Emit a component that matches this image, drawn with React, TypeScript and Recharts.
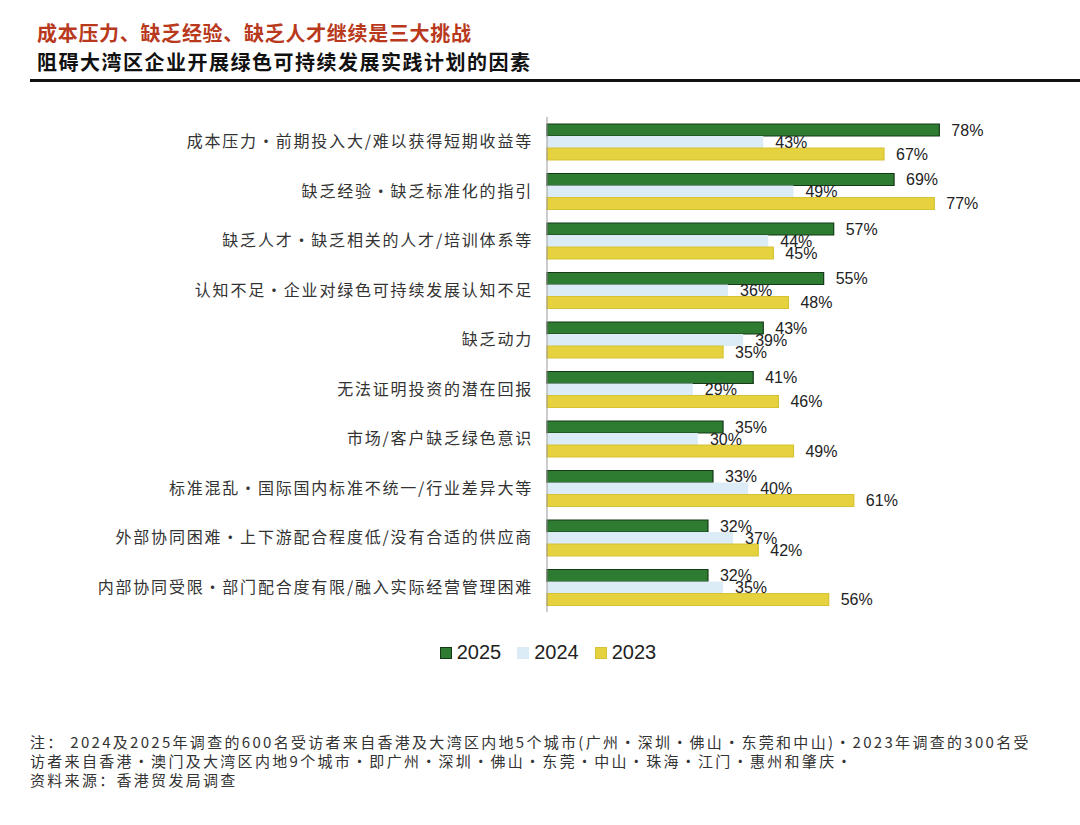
import React from 'react';
import { BarChart, Bar, XAxis, YAxis, LabelList } from 'recharts';

const factors = [
  '成本压力・前期投入大/难以获得短期收益等',
  '缺乏经验・缺乏标准化的指引',
  '缺乏人才・缺乏相关的人才/培训体系等',
  '认知不足・企业对绿色可持续发展认知不足',
  '缺乏动力',
  '无法证明投资的潜在回报',
  '市场/客户缺乏绿色意识',
  '标准混乱・国际国内标准不统一/行业差异大等',
  '外部协同困难・上下游配合程度低/没有合适的供应商',
  '内部协同受限・部门配合度有限/融入实际经营管理困难',
];

const y2025 = [78, 69, 57, 55, 43, 41, 35, 33, 32, 32];
const y2024 = [43, 49, 44, 36, 39, 29, 30, 40, 37, 35];
const y2023 = [67, 77, 45, 48, 35, 46, 49, 61, 42, 56];

const seriesNames = ['2025', '2024', '2023'];

const noteLines = [
  '注： 2024及2025年调查的600名受访者来自香港及大湾区内地5个城市(广州・深圳・佛山・东莞和中山)・2023年调查的300名受',
  '访者来自香港・澳门及大湾区内地9个城市・即广州・深圳・佛山・东莞・中山・珠海・江门・惠州和肇庆・',
  '资料来源：香港贸发局调查',
];

const COLORS = {
  '2025': { fill: '#2e7b32', stroke: '#153a17' },
  '2024': { fill: '#dcecf7', stroke: '#dcecf7' },
  '2023': { fill: '#e5d23e', stroke: '#d6c234' },
};

const data = factors.map((name, i) => ({
  name,
  '2025': y2025[i],
  '2024': y2024[i],
  '2023': y2023[i],
}));

const CJK = '"Noto Sans CJK SC", "Noto Sans", sans-serif';
const LATIN = '"Liberation Sans", Arial, sans-serif';

export default function App() {
  return (
    <div
      style={{
        position: 'absolute',
        left: 0,
        top: 0,
        width: 1080,
        height: 825,
        background: '#fff',
        overflow: 'hidden',
        fontFamily: CJK,
      }}
    >
      <div style={{ position: 'absolute', left: 37, top: 19, fontSize: 20, fontWeight: 700, color: '#b8391c', lineHeight: '28px', letterSpacing: 0.7 }}>
        成本压力、缺乏经验、缺乏人才继续是三大挑战
      </div>
      <div style={{ position: 'absolute', left: 37, top: 48, fontSize: 20, fontWeight: 700, color: '#111', lineHeight: '28px', letterSpacing: 1.5 }}>
        阻碍大湾区企业开展绿色可持续发展实践计划的因素
      </div>
      <div style={{ position: 'absolute', left: 30, top: 79, width: 1050, height: 2.5, background: '#111' }} />

      <div style={{ position: 'absolute', left: 0, top: 0 }}>
        <BarChart
          width={1080}
          height={625}
          data={data}
          layout="vertical"
          margin={{ top: 117, right: 30, bottom: 13, left: 0 }}
          barGap={0}
          barSize={12}
        >
          <XAxis type="number" domain={[0, 100]} hide />
          <YAxis
            type="category"
            dataKey="name"
            width={547}
            tickSize={0}
            tickMargin={14}
            axisLine={{ stroke: '#9a9a9a' }}
            tick={{ fontSize: 16, fill: '#333', fontFamily: CJK, letterSpacing: 1.8 }}
            interval={0}
          />
          {seriesNames.map((s) => (
            <Bar
              key={s}
              dataKey={s}
              fill={COLORS[s as keyof typeof COLORS].fill}
              stroke={COLORS[s as keyof typeof COLORS].stroke}
              strokeWidth={s === '2024' ? 0 : 1.2}
              isAnimationActive={false}
            >
              <LabelList
                dataKey={s}
                position="right"
                offset={12}
                formatter={(v: any) => `${v}%`}
                style={{ fontSize: 16, fill: '#222', fontFamily: LATIN }}
              />
            </Bar>
          ))}
        </BarChart>
      </div>

      <div
        style={{
          position: 'absolute',
          top: 641,
          left: 0,
          width: 1080,
          display: 'flex',
          justifyContent: 'center',
          alignItems: 'center',
          fontFamily: LATIN,
          fontSize: 20,
          color: '#222',
          paddingLeft: 16,
        }}
      >
        {seriesNames.map((s) => (
          <div key={s} style={{ display: 'flex', alignItems: 'center', marginRight: 16 }}>
            <span
              style={{
                display: 'inline-block',
                width: 10,
                height: 10,
                background: COLORS[s as keyof typeof COLORS].fill,
                border: `1px solid ${COLORS[s as keyof typeof COLORS].stroke}`,
                marginRight: 5,
              }}
            />
            <span>{s}</span>
          </div>
        ))}
      </div>

      <div style={{ position: 'absolute', left: 30, top: 732, fontSize: 15, color: '#333', lineHeight: '19px', letterSpacing: 2.3, whiteSpace: 'nowrap' }}>
        {noteLines.map((l, i) => (
          <div key={i}>{l}</div>
        ))}
      </div>
    </div>
  );
}
